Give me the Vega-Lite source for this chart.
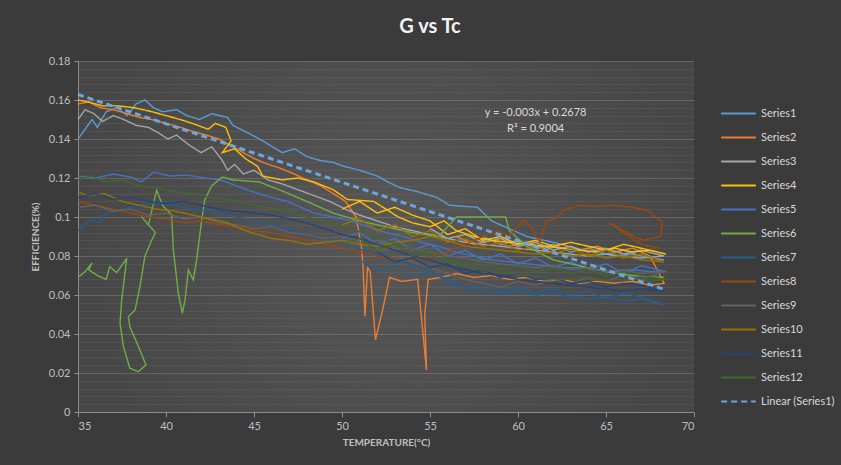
{
  "$schema": "https://vega.github.io/schema/vega-lite/v6.json",
  "width": 616,
  "height": 351,
  "autosize": {"type": "none"},
  "padding": {"left": 78, "top": 61, "right": 147, "bottom": 53},
  "background": "#3b3b3b",
  "title": {"text": "G vs Tc", "font": "Lato", "fontSize": 20, "fontWeight": "bold", "color": "#f2f2f2", "anchor": "middle", "frame": "group", "dx": 44, "offset": 18},
  "config": {
    "view": {"stroke": null, "fill": {"gradient": "radial", "stops": [{"offset": 0, "color": "#575757"}, {"offset": 1, "color": "#474747"}]}},
    "font": "Lato"
  },
  "datasets": {
    "series": [
      {"s":"Series1","x":35,"y":0.140},{"s":"Series1","x":35.4,"y":0.145},{"s":"Series1","x":35.8,"y":0.150},{"s":"Series1","x":36.1,"y":0.146},{"s":"Series1","x":36.6,"y":0.154},{"s":"Series1","x":37.2,"y":0.156},{"s":"Series1","x":37.8,"y":0.152},{"s":"Series1","x":38.3,"y":0.158},{"s":"Series1","x":38.8,"y":0.160},{"s":"Series1","x":39.3,"y":0.156},{"s":"Series1","x":39.8,"y":0.154},{"s":"Series1","x":40.6,"y":0.155},{"s":"Series1","x":41.2,"y":0.152},{"s":"Series1","x":41.9,"y":0.150},{"s":"Series1","x":42.6,"y":0.153},{"s":"Series1","x":43.5,"y":0.151},{"s":"Series1","x":43.8,"y":0.147},{"s":"Series1","x":44.9,"y":0.142},{"s":"Series1","x":45.5,"y":0.139},{"s":"Series1","x":46.6,"y":0.133},{"s":"Series1","x":47.3,"y":0.135},{"s":"Series1","x":48.0,"y":0.131},{"s":"Series1","x":48.75,"y":0.129},{"s":"Series1","x":49.5,"y":0.128},{"s":"Series1","x":50.1,"y":0.126},{"s":"Series1","x":51.0,"y":0.124},{"s":"Series1","x":52.0,"y":0.121},{"s":"Series1","x":52.6,"y":0.118},{"s":"Series1","x":53.3,"y":0.115},{"s":"Series1","x":54.3,"y":0.113},{"s":"Series1","x":55.4,"y":0.110},{"s":"Series1","x":56.1,"y":0.106},{"s":"Series1","x":57.7,"y":0.105},{"s":"Series1","x":58.5,"y":0.098},{"s":"Series1","x":59.5,"y":0.094},{"s":"Series1","x":60.5,"y":0.090},{"s":"Series1","x":61.5,"y":0.088},{"s":"Series1","x":62.5,"y":0.086},{"s":"Series1","x":63.5,"y":0.083},{"s":"Series1","x":64.5,"y":0.082},{"s":"Series1","x":65.5,"y":0.080},{"s":"Series1","x":66.5,"y":0.081},{"s":"Series1","x":67.5,"y":0.079},{"s":"Series1","x":68.3,"y":0.078},{"s":"Series1","x":67,"y":0.080},{"s":"Series1","x":66,"y":0.083},{"s":"Series1","x":65,"y":0.081},{"s":"Series1","x":64,"y":0.084},{"s":"Series1","x":63,"y":0.082},{"s":"Series1","x":62,"y":0.086},{"s":"Series1","x":61,"y":0.084},{"s":"Series1","x":60,"y":0.088},{"s":"Series1","x":59,"y":0.086},{"s":"Series1","x":58,"y":0.090},

      {"s":"Series2","x":35,"y":0.158},{"s":"Series2","x":35.6,"y":0.159},{"s":"Series2","x":36.3,"y":0.156},{"s":"Series2","x":37,"y":0.155},{"s":"Series2","x":37.8,"y":0.153},{"s":"Series2","x":38.5,"y":0.151},{"s":"Series2","x":39.2,"y":0.150},{"s":"Series2","x":40,"y":0.148},{"s":"Series2","x":40.8,"y":0.146},{"s":"Series2","x":41.5,"y":0.144},{"s":"Series2","x":42.3,"y":0.142},{"s":"Series2","x":43,"y":0.140},{"s":"Series2","x":43.6,"y":0.137},{"s":"Series2","x":44.2,"y":0.134},{"s":"Series2","x":45,"y":0.130},{"s":"Series2","x":45.8,"y":0.127},{"s":"Series2","x":46.5,"y":0.125},{"s":"Series2","x":47.3,"y":0.122},{"s":"Series2","x":48,"y":0.119},{"s":"Series2","x":48.8,"y":0.116},{"s":"Series2","x":49.5,"y":0.112},{"s":"Series2","x":50.2,"y":0.108},{"s":"Series2","x":50.8,"y":0.100},{"s":"Series2","x":51.1,"y":0.085},{"s":"Series2","x":51.2,"y":0.074},{"s":"Series2","x":51.3,"y":0.049},{"s":"Series2","x":51.45,"y":0.074},{"s":"Series2","x":51.6,"y":0.072},{"s":"Series2","x":51.9,"y":0.037},{"s":"Series2","x":52.3,"y":0.052},{"s":"Series2","x":52.7,"y":0.069},{"s":"Series2","x":53.4,"y":0.067},{"s":"Series2","x":54.3,"y":0.068},{"s":"Series2","x":54.55,"y":0.045},{"s":"Series2","x":54.8,"y":0.0215},{"s":"Series2","x":54.7,"y":0.05},{"s":"Series2","x":54.9,"y":0.068},{"s":"Series2","x":55.6,"y":0.069},{"s":"Series2","x":56.5,"y":0.071},{"s":"Series2","x":57.5,"y":0.069},{"s":"Series2","x":58.5,"y":0.070},{"s":"Series2","x":59.5,"y":0.068},{"s":"Series2","x":60.5,"y":0.069},{"s":"Series2","x":61.5,"y":0.067},{"s":"Series2","x":62.5,"y":0.068},{"s":"Series2","x":63.5,"y":0.066},{"s":"Series2","x":64.5,"y":0.067},{"s":"Series2","x":65.5,"y":0.066},{"s":"Series2","x":66.5,"y":0.067},{"s":"Series2","x":67.5,"y":0.065},{"s":"Series2","x":68.3,"y":0.066},{"s":"Series2","x":67.5,"y":0.080},{"s":"Series2","x":66.5,"y":0.084},{"s":"Series2","x":65.5,"y":0.082},{"s":"Series2","x":64.5,"y":0.085},{"s":"Series2","x":63.5,"y":0.083},{"s":"Series2","x":62.5,"y":0.086},{"s":"Series2","x":61.5,"y":0.084},{"s":"Series2","x":60.5,"y":0.087},{"s":"Series2","x":59.5,"y":0.085},{"s":"Series2","x":58.5,"y":0.088},{"s":"Series2","x":57.5,"y":0.086},{"s":"Series2","x":56.5,"y":0.090},

      {"s":"Series3","x":35,"y":0.150},{"s":"Series3","x":35.4,"y":0.155},{"s":"Series3","x":35.9,"y":0.153},{"s":"Series3","x":36.4,"y":0.149},{"s":"Series3","x":37,"y":0.152},{"s":"Series3","x":37.6,"y":0.150},{"s":"Series3","x":38.3,"y":0.147},{"s":"Series3","x":39,"y":0.146},{"s":"Series3","x":39.6,"y":0.143},{"s":"Series3","x":40.1,"y":0.140},{"s":"Series3","x":40.6,"y":0.142},{"s":"Series3","x":41.3,"y":0.137},{"s":"Series3","x":42,"y":0.133},{"s":"Series3","x":42.6,"y":0.136},{"s":"Series3","x":43.2,"y":0.129},{"s":"Series3","x":43.5,"y":0.124},{"s":"Series3","x":43.9,"y":0.127},{"s":"Series3","x":44.4,"y":0.122},{"s":"Series3","x":45,"y":0.124},{"s":"Series3","x":45.8,"y":0.119},{"s":"Series3","x":46.6,"y":0.117},{"s":"Series3","x":47.5,"y":0.114},{"s":"Series3","x":48.4,"y":0.111},{"s":"Series3","x":49.3,"y":0.108},{"s":"Series3","x":50.2,"y":0.104},{"s":"Series3","x":51,"y":0.101},{"s":"Series3","x":52,"y":0.098},{"s":"Series3","x":53,"y":0.095},{"s":"Series3","x":54,"y":0.093},{"s":"Series3","x":55,"y":0.091},{"s":"Series3","x":56,"y":0.089},{"s":"Series3","x":57,"y":0.087},{"s":"Series3","x":58,"y":0.086},{"s":"Series3","x":59,"y":0.085},{"s":"Series3","x":60,"y":0.084},{"s":"Series3","x":61,"y":0.083},{"s":"Series3","x":62,"y":0.082},{"s":"Series3","x":63,"y":0.081},{"s":"Series3","x":64,"y":0.080},{"s":"Series3","x":65,"y":0.081},{"s":"Series3","x":66,"y":0.080},{"s":"Series3","x":67,"y":0.079},{"s":"Series3","x":68.3,"y":0.080},{"s":"Series3","x":67,"y":0.083},{"s":"Series3","x":66,"y":0.081},{"s":"Series3","x":65,"y":0.084},{"s":"Series3","x":64,"y":0.082},{"s":"Series3","x":63,"y":0.085},{"s":"Series3","x":62,"y":0.083},{"s":"Series3","x":61,"y":0.087},{"s":"Series3","x":60,"y":0.085},{"s":"Series3","x":59,"y":0.089},{"s":"Series3","x":58,"y":0.087},{"s":"Series3","x":57,"y":0.091},{"s":"Series3","x":56,"y":0.089},{"s":"Series3","x":55,"y":0.094},

      {"s":"Series4","x":35,"y":0.160},{"s":"Series4","x":35.6,"y":0.159},{"s":"Series4","x":36.4,"y":0.157},{"s":"Series4","x":37.3,"y":0.157},{"s":"Series4","x":38.2,"y":0.156},{"s":"Series4","x":39.2,"y":0.154},{"s":"Series4","x":40.0,"y":0.152},{"s":"Series4","x":40.8,"y":0.150},{"s":"Series4","x":41.5,"y":0.148},{"s":"Series4","x":42.4,"y":0.145},{"s":"Series4","x":42.8,"y":0.148},{"s":"Series4","x":43.4,"y":0.146},{"s":"Series4","x":43.7,"y":0.139},{"s":"Series4","x":43.2,"y":0.133},{"s":"Series4","x":43.9,"y":0.135},{"s":"Series4","x":44.5,"y":0.130},{"s":"Series4","x":45.2,"y":0.126},{"s":"Series4","x":45.5,"y":0.121},{"s":"Series4","x":46.6,"y":0.119},{"s":"Series4","x":47.5,"y":0.120},{"s":"Series4","x":48.4,"y":0.118},{"s":"Series4","x":49.5,"y":0.114},{"s":"Series4","x":50.3,"y":0.109},{"s":"Series4","x":51.8,"y":0.108},{"s":"Series4","x":52.5,"y":0.104},{"s":"Series4","x":53.2,"y":0.100},{"s":"Series4","x":54.0,"y":0.097},{"s":"Series4","x":55.0,"y":0.095},{"s":"Series4","x":55.8,"y":0.098},{"s":"Series4","x":56.5,"y":0.093},{"s":"Series4","x":57.5,"y":0.090},{"s":"Series4","x":58.5,"y":0.088},{"s":"Series4","x":59.5,"y":0.087},{"s":"Series4","x":60.5,"y":0.086},{"s":"Series4","x":61.5,"y":0.085},{"s":"Series4","x":62.5,"y":0.084},{"s":"Series4","x":63.5,"y":0.083},{"s":"Series4","x":64.5,"y":0.082},{"s":"Series4","x":65.5,"y":0.084},{"s":"Series4","x":66.5,"y":0.082},{"s":"Series4","x":67.5,"y":0.083},{"s":"Series4","x":68.4,"y":0.081},{"s":"Series4","x":67,"y":0.084},{"s":"Series4","x":66,"y":0.086},{"s":"Series4","x":65,"y":0.083},{"s":"Series4","x":64,"y":0.085},{"s":"Series4","x":63,"y":0.087},{"s":"Series4","x":62,"y":0.085},{"s":"Series4","x":61,"y":0.088},{"s":"Series4","x":60,"y":0.086},{"s":"Series4","x":59,"y":0.090},{"s":"Series4","x":58,"y":0.088},{"s":"Series4","x":57,"y":0.094},{"s":"Series4","x":56,"y":0.091},{"s":"Series4","x":55,"y":0.098},{"s":"Series4","x":54,"y":0.101},{"s":"Series4","x":53,"y":0.105},{"s":"Series4","x":52,"y":0.102},{"s":"Series4","x":51,"y":0.108},{"s":"Series4","x":50,"y":0.104},

      {"s":"Series5","x":35,"y":0.121},{"s":"Series5","x":36,"y":0.120},{"s":"Series5","x":37,"y":0.122},{"s":"Series5","x":38,"y":0.1205},{"s":"Series5","x":38.6,"y":0.118},{"s":"Series5","x":39.3,"y":0.123},{"s":"Series5","x":40.2,"y":0.121},{"s":"Series5","x":41.2,"y":0.1215},{"s":"Series5","x":42.2,"y":0.120},{"s":"Series5","x":43.1,"y":0.119},{"s":"Series5","x":44,"y":0.116},{"s":"Series5","x":44.9,"y":0.113},{"s":"Series5","x":46,"y":0.110},{"s":"Series5","x":46.9,"y":0.108},{"s":"Series5","x":48.4,"y":0.102},{"s":"Series5","x":49.5,"y":0.100},{"s":"Series5","x":50.5,"y":0.098},{"s":"Series5","x":51.5,"y":0.095},{"s":"Series5","x":52.5,"y":0.092},{"s":"Series5","x":53.5,"y":0.090},{"s":"Series5","x":54.5,"y":0.087},{"s":"Series5","x":55.5,"y":0.085},{"s":"Series5","x":56.5,"y":0.082},{"s":"Series5","x":57.5,"y":0.080},{"s":"Series5","x":58.5,"y":0.078},{"s":"Series5","x":59.5,"y":0.077},{"s":"Series5","x":60.5,"y":0.076},{"s":"Series5","x":61.5,"y":0.075},{"s":"Series5","x":62.5,"y":0.074},{"s":"Series5","x":63.5,"y":0.074},{"s":"Series5","x":64.5,"y":0.073},{"s":"Series5","x":65.5,"y":0.072},{"s":"Series5","x":66.5,"y":0.073},{"s":"Series5","x":67.5,"y":0.072},{"s":"Series5","x":68.4,"y":0.072},{"s":"Series5","x":67,"y":0.075},{"s":"Series5","x":66,"y":0.071},{"s":"Series5","x":65,"y":0.076},{"s":"Series5","x":64,"y":0.073},{"s":"Series5","x":63,"y":0.077},{"s":"Series5","x":62,"y":0.074},{"s":"Series5","x":61,"y":0.079},{"s":"Series5","x":60,"y":0.076},{"s":"Series5","x":59,"y":0.081},{"s":"Series5","x":58,"y":0.078},{"s":"Series5","x":57,"y":0.083},{"s":"Series5","x":56,"y":0.080},{"s":"Series5","x":55,"y":0.086},{"s":"Series5","x":54,"y":0.083},{"s":"Series5","x":53,"y":0.089},{"s":"Series5","x":52,"y":0.086},{"s":"Series5","x":51,"y":0.092},{"s":"Series5","x":50,"y":0.089},

      {"s":"Series6","x":35,"y":0.069},{"s":"Series6","x":35.4,"y":0.072},{"s":"Series6","x":35.8,"y":0.0764},{"s":"Series6","x":35.6,"y":0.073},{"s":"Series6","x":36.1,"y":0.070},{"s":"Series6","x":36.6,"y":0.068},{"s":"Series6","x":36.8,"y":0.0745},{"s":"Series6","x":37.2,"y":0.0715},{"s":"Series6","x":37.77,"y":0.0788},{"s":"Series6","x":37.48,"y":0.0574},{"s":"Series6","x":37.39,"y":0.0455},{"s":"Series6","x":37.58,"y":0.0335},{"s":"Series6","x":37.95,"y":0.0224},{"s":"Series6","x":38.43,"y":0.0207},{"s":"Series6","x":38.86,"y":0.0241},{"s":"Series6","x":38.52,"y":0.0318},{"s":"Series6","x":37.95,"y":0.0437},{"s":"Series6","x":37.86,"y":0.0489},{"s":"Series6","x":38.24,"y":0.0523},{"s":"Series6","x":38.52,"y":0.0643},{"s":"Series6","x":38.8,"y":0.0798},{"s":"Series6","x":39.19,"y":0.0882},{"s":"Series6","x":39.4,"y":0.092},{"s":"Series6","x":38.6,"y":0.1002},{"s":"Series6","x":39.0,"y":0.096},{"s":"Series6","x":39.47,"y":0.1138},{"s":"Series6","x":39.8,"y":0.106},{"s":"Series6","x":40.32,"y":0.101},{"s":"Series6","x":40.42,"y":0.083},{"s":"Series6","x":40.7,"y":0.0609},{"s":"Series6","x":40.93,"y":0.0506},{"s":"Series6","x":41.08,"y":0.0574},{"s":"Series6","x":41.27,"y":0.0728},{"s":"Series6","x":41.55,"y":0.0677},{"s":"Series6","x":41.74,"y":0.078},{"s":"Series6","x":42.03,"y":0.0985},{"s":"Series6","x":42.2,"y":0.1087},{"s":"Series6","x":42.6,"y":0.116},{"s":"Series6","x":43.2,"y":0.1205},{"s":"Series6","x":43.8,"y":0.119},{"s":"Series6","x":45.3,"y":0.118},{"s":"Series6","x":46.7,"y":0.113},{"s":"Series6","x":48,"y":0.108},{"s":"Series6","x":49.5,"y":0.102},{"s":"Series6","x":51,"y":0.098},{"s":"Series6","x":52.5,"y":0.095},{"s":"Series6","x":54,"y":0.092},{"s":"Series6","x":55.5,"y":0.090},{"s":"Series6","x":56.5,"y":0.1},{"s":"Series6","x":58.3,"y":0.1},{"s":"Series6","x":59.3,"y":0.1},{"s":"Series6","x":59.5,"y":0.093},{"s":"Series6","x":60.5,"y":0.085},{"s":"Series6","x":62,"y":0.078},{"s":"Series6","x":63.5,"y":0.075},{"s":"Series6","x":65,"y":0.072},{"s":"Series6","x":66.5,"y":0.070},{"s":"Series6","x":68.3,"y":0.069},

      {"s":"Series7","x":35,"y":0.093},{"s":"Series7","x":35.7,"y":0.0985},{"s":"Series7","x":36.2,"y":0.097},{"s":"Series7","x":36.6,"y":0.102},{"s":"Series7","x":37.5,"y":0.104},{"s":"Series7","x":38.5,"y":0.106},{"s":"Series7","x":39.5,"y":0.107},{"s":"Series7","x":40.5,"y":0.106},{"s":"Series7","x":41.5,"y":0.104},{"s":"Series7","x":42.5,"y":0.103},{"s":"Series7","x":43.5,"y":0.101},{"s":"Series7","x":44.5,"y":0.099},{"s":"Series7","x":45.5,"y":0.097},{"s":"Series7","x":46.5,"y":0.095},{"s":"Series7","x":47.5,"y":0.092},{"s":"Series7","x":48.5,"y":0.090},{"s":"Series7","x":49.5,"y":0.088},{"s":"Series7","x":50.5,"y":0.085},{"s":"Series7","x":51.5,"y":0.082},{"s":"Series7","x":52.5,"y":0.080},{"s":"Series7","x":53.5,"y":0.077},{"s":"Series7","x":54.5,"y":0.074},{"s":"Series7","x":55.5,"y":0.070},{"s":"Series7","x":56,"y":0.066},{"s":"Series7","x":57,"y":0.064},{"s":"Series7","x":58,"y":0.062},{"s":"Series7","x":59,"y":0.061},{"s":"Series7","x":60,"y":0.062},{"s":"Series7","x":61,"y":0.060},{"s":"Series7","x":62,"y":0.061},{"s":"Series7","x":63,"y":0.059},{"s":"Series7","x":64,"y":0.058},{"s":"Series7","x":65,"y":0.059},{"s":"Series7","x":66,"y":0.057},{"s":"Series7","x":67,"y":0.058},{"s":"Series7","x":68.3,"y":0.055},{"s":"Series7","x":67,"y":0.059},{"s":"Series7","x":66,"y":0.061},{"s":"Series7","x":65,"y":0.058},{"s":"Series7","x":64,"y":0.062},{"s":"Series7","x":63,"y":0.060},{"s":"Series7","x":62,"y":0.063},{"s":"Series7","x":61,"y":0.061},{"s":"Series7","x":60,"y":0.064},{"s":"Series7","x":59,"y":0.062},{"s":"Series7","x":58,"y":0.066},{"s":"Series7","x":57,"y":0.063},{"s":"Series7","x":56,"y":0.068},{"s":"Series7","x":55,"y":0.072},{"s":"Series7","x":54,"y":0.069},{"s":"Series7","x":53,"y":0.075},{"s":"Series7","x":52,"y":0.072},{"s":"Series7","x":51,"y":0.078},

      {"s":"Series8","x":35,"y":0.108},{"s":"Series8","x":36,"y":0.106},{"s":"Series8","x":37,"y":0.104},{"s":"Series8","x":38,"y":0.102},{"s":"Series8","x":39,"y":0.100},{"s":"Series8","x":40,"y":0.099},{"s":"Series8","x":41,"y":0.097},{"s":"Series8","x":42,"y":0.098},{"s":"Series8","x":43,"y":0.096},{"s":"Series8","x":44,"y":0.095},{"s":"Series8","x":45,"y":0.093},{"s":"Series8","x":46,"y":0.092},{"s":"Series8","x":47,"y":0.090},{"s":"Series8","x":48,"y":0.088},{"s":"Series8","x":49,"y":0.086},{"s":"Series8","x":50,"y":0.084},{"s":"Series8","x":51,"y":0.082},{"s":"Series8","x":52,"y":0.080},{"s":"Series8","x":53,"y":0.079},{"s":"Series8","x":54,"y":0.078},{"s":"Series8","x":55,"y":0.080},{"s":"Series8","x":56,"y":0.082},{"s":"Series8","x":57,"y":0.086},{"s":"Series8","x":58,"y":0.090},{"s":"Series8","x":58.8,"y":0.093},{"s":"Series8","x":59.5,"y":0.090},{"s":"Series8","x":60.3,"y":0.0985},{"s":"Series8","x":60.8,"y":0.094},{"s":"Series8","x":61.25,"y":0.087},{"s":"Series8","x":61.6,"y":0.098},{"s":"Series8","x":62.2,"y":0.0995},{"s":"Series8","x":62.6,"y":0.1036},{"s":"Series8","x":63.5,"y":0.106},{"s":"Series8","x":64.5,"y":0.1055},{"s":"Series8","x":65.4,"y":0.106},{"s":"Series8","x":66.5,"y":0.105},{"s":"Series8","x":67.3,"y":0.1036},{"s":"Series8","x":68.2,"y":0.0975},{"s":"Series8","x":68.1,"y":0.090},{"s":"Series8","x":67.1,"y":0.088},{"s":"Series8","x":66.4,"y":0.0908},{"s":"Series8","x":65.2,"y":0.097},{"s":"Series8","x":66.0,"y":0.092},{"s":"Series8","x":67.0,"y":0.086},{"s":"Series8","x":68.0,"y":0.084},

      {"s":"Series9","x":35,"y":0.105},{"s":"Series9","x":36,"y":0.106},{"s":"Series9","x":37,"y":0.103},{"s":"Series9","x":38,"y":0.104},{"s":"Series9","x":39,"y":0.101},{"s":"Series9","x":40,"y":0.102},{"s":"Series9","x":41,"y":0.099},{"s":"Series9","x":42,"y":0.100},{"s":"Series9","x":43,"y":0.097},{"s":"Series9","x":44,"y":0.096},{"s":"Series9","x":45,"y":0.094},{"s":"Series9","x":46,"y":0.095},{"s":"Series9","x":47,"y":0.092},{"s":"Series9","x":48,"y":0.091},{"s":"Series9","x":49,"y":0.089},{"s":"Series9","x":50,"y":0.090},{"s":"Series9","x":51,"y":0.087},{"s":"Series9","x":52,"y":0.088},{"s":"Series9","x":53,"y":0.085},{"s":"Series9","x":52,"y":0.083},{"s":"Series9","x":54,"y":0.084},{"s":"Series9","x":55,"y":0.082},{"s":"Series9","x":56,"y":0.080},{"s":"Series9","x":57,"y":0.079},{"s":"Series9","x":58,"y":0.077},{"s":"Series9","x":59,"y":0.076},{"s":"Series9","x":60,"y":0.075},{"s":"Series9","x":61,"y":0.074},{"s":"Series9","x":62,"y":0.075},{"s":"Series9","x":63,"y":0.073},{"s":"Series9","x":64,"y":0.074},{"s":"Series9","x":65,"y":0.072},{"s":"Series9","x":66,"y":0.073},{"s":"Series9","x":67,"y":0.071},{"s":"Series9","x":68.3,"y":0.072},{"s":"Series9","x":67,"y":0.068},{"s":"Series9","x":66,"y":0.070},{"s":"Series9","x":65,"y":0.067},{"s":"Series9","x":64,"y":0.069},{"s":"Series9","x":63,"y":0.066},{"s":"Series9","x":62,"y":0.068},{"s":"Series9","x":61,"y":0.065},{"s":"Series9","x":60,"y":0.067},{"s":"Series9","x":59,"y":0.064},{"s":"Series9","x":58,"y":0.066},{"s":"Series9","x":57,"y":0.068},{"s":"Series9","x":56,"y":0.071},{"s":"Series9","x":55,"y":0.074},{"s":"Series9","x":54,"y":0.077},{"s":"Series9","x":53,"y":0.080},

      {"s":"Series10","x":35,"y":0.113},{"s":"Series10","x":35.5,"y":0.111},{"s":"Series10","x":36.5,"y":0.112},{"s":"Series10","x":37.5,"y":0.108},{"s":"Series10","x":38.5,"y":0.106},{"s":"Series10","x":39.5,"y":0.104},{"s":"Series10","x":40.5,"y":0.103},{"s":"Series10","x":41.5,"y":0.101},{"s":"Series10","x":42.5,"y":0.099},{"s":"Series10","x":43.5,"y":0.097},{"s":"Series10","x":44.5,"y":0.093},{"s":"Series10","x":45.2,"y":0.091},{"s":"Series10","x":46,"y":0.089},{"s":"Series10","x":47,"y":0.088},{"s":"Series10","x":48,"y":0.086},{"s":"Series10","x":49,"y":0.087},{"s":"Series10","x":50,"y":0.088},{"s":"Series10","x":51,"y":0.086},{"s":"Series10","x":52,"y":0.085},{"s":"Series10","x":53,"y":0.087},{"s":"Series10","x":54,"y":0.088},{"s":"Series10","x":55,"y":0.090},{"s":"Series10","x":56,"y":0.088},{"s":"Series10","x":57,"y":0.085},{"s":"Series10","x":58,"y":0.084},{"s":"Series10","x":59,"y":0.083},{"s":"Series10","x":60,"y":0.082},{"s":"Series10","x":61,"y":0.081},{"s":"Series10","x":62,"y":0.082},{"s":"Series10","x":63,"y":0.080},{"s":"Series10","x":64,"y":0.081},{"s":"Series10","x":65,"y":0.079},{"s":"Series10","x":66,"y":0.080},{"s":"Series10","x":67,"y":0.078},{"s":"Series10","x":68.3,"y":0.077},{"s":"Series10","x":67,"y":0.081},{"s":"Series10","x":66,"y":0.079},{"s":"Series10","x":65,"y":0.083},{"s":"Series10","x":64,"y":0.080},{"s":"Series10","x":63,"y":0.084},{"s":"Series10","x":62,"y":0.081},{"s":"Series10","x":61,"y":0.085},{"s":"Series10","x":60,"y":0.083},{"s":"Series10","x":59,"y":0.087},{"s":"Series10","x":58,"y":0.085},{"s":"Series10","x":57,"y":0.089},{"s":"Series10","x":56,"y":0.087},{"s":"Series10","x":55,"y":0.093},{"s":"Series10","x":54,"y":0.090},{"s":"Series10","x":53,"y":0.096},{"s":"Series10","x":52,"y":0.093},{"s":"Series10","x":51,"y":0.099},{"s":"Series10","x":50,"y":0.096},

      {"s":"Series11","x":35,"y":0.110},{"s":"Series11","x":36,"y":0.112},{"s":"Series11","x":37,"y":0.109},{"s":"Series11","x":38,"y":0.110},{"s":"Series11","x":39,"y":0.108},{"s":"Series11","x":40,"y":0.107},{"s":"Series11","x":41,"y":0.108},{"s":"Series11","x":42,"y":0.106},{"s":"Series11","x":43,"y":0.104},{"s":"Series11","x":44,"y":0.103},{"s":"Series11","x":45,"y":0.102},{"s":"Series11","x":46,"y":0.101},{"s":"Series11","x":47,"y":0.099},{"s":"Series11","x":48,"y":0.097},{"s":"Series11","x":49,"y":0.094},{"s":"Series11","x":50,"y":0.091},{"s":"Series11","x":51,"y":0.089},{"s":"Series11","x":52,"y":0.086},{"s":"Series11","x":53,"y":0.083},{"s":"Series11","x":54,"y":0.080},{"s":"Series11","x":55,"y":0.078},{"s":"Series11","x":56,"y":0.075},{"s":"Series11","x":57,"y":0.073},{"s":"Series11","x":58,"y":0.071},{"s":"Series11","x":59,"y":0.070},{"s":"Series11","x":60,"y":0.068},{"s":"Series11","x":61,"y":0.067},{"s":"Series11","x":62,"y":0.066},{"s":"Series11","x":63,"y":0.065},{"s":"Series11","x":64,"y":0.064},{"s":"Series11","x":65,"y":0.063},{"s":"Series11","x":66,"y":0.062},{"s":"Series11","x":67,"y":0.063},{"s":"Series11","x":68.3,"y":0.062},{"s":"Series11","x":67,"y":0.065},{"s":"Series11","x":66,"y":0.066},{"s":"Series11","x":65,"y":0.064},{"s":"Series11","x":64,"y":0.067},{"s":"Series11","x":63,"y":0.066},{"s":"Series11","x":62,"y":0.069},{"s":"Series11","x":61,"y":0.068},{"s":"Series11","x":60,"y":0.071},{"s":"Series11","x":59,"y":0.069},{"s":"Series11","x":58,"y":0.073},{"s":"Series11","x":57,"y":0.071},{"s":"Series11","x":56,"y":0.076},{"s":"Series11","x":55,"y":0.074},{"s":"Series11","x":54,"y":0.079},{"s":"Series11","x":53,"y":0.077},{"s":"Series11","x":52,"y":0.082},

      {"s":"Series12","x":35,"y":0.119},{"s":"Series12","x":35.8,"y":0.121},{"s":"Series12","x":36.5,"y":0.118},{"s":"Series12","x":37.5,"y":0.119},{"s":"Series12","x":38.5,"y":0.116},{"s":"Series12","x":39.5,"y":0.115},{"s":"Series12","x":40.5,"y":0.113},{"s":"Series12","x":41.5,"y":0.112},{"s":"Series12","x":42.5,"y":0.110},{"s":"Series12","x":43.5,"y":0.109},{"s":"Series12","x":44.5,"y":0.107},{"s":"Series12","x":45.5,"y":0.105},{"s":"Series12","x":46.5,"y":0.104},{"s":"Series12","x":47.5,"y":0.101},{"s":"Series12","x":48.5,"y":0.099},{"s":"Series12","x":49.5,"y":0.097},{"s":"Series12","x":50.5,"y":0.094},{"s":"Series12","x":51.5,"y":0.091},{"s":"Series12","x":52.5,"y":0.088},{"s":"Series12","x":53.5,"y":0.085},{"s":"Series12","x":54.5,"y":0.082},{"s":"Series12","x":55.5,"y":0.079},{"s":"Series12","x":56.5,"y":0.076},{"s":"Series12","x":57.5,"y":0.074},{"s":"Series12","x":58.5,"y":0.072},{"s":"Series12","x":59.5,"y":0.071},{"s":"Series12","x":60.5,"y":0.070},{"s":"Series12","x":61.5,"y":0.069},{"s":"Series12","x":62.5,"y":0.068},{"s":"Series12","x":63.5,"y":0.069},{"s":"Series12","x":64.5,"y":0.068},{"s":"Series12","x":65.5,"y":0.067},{"s":"Series12","x":66.5,"y":0.068},{"s":"Series12","x":67.5,"y":0.067},{"s":"Series12","x":68.4,"y":0.068},{"s":"Series12","x":67,"y":0.070},{"s":"Series12","x":66,"y":0.072},{"s":"Series12","x":65,"y":0.070},{"s":"Series12","x":64,"y":0.073},{"s":"Series12","x":63,"y":0.071},{"s":"Series12","x":62,"y":0.074},{"s":"Series12","x":61,"y":0.072},{"s":"Series12","x":60,"y":0.075},{"s":"Series12","x":59,"y":0.073},{"s":"Series12","x":58,"y":0.077},{"s":"Series12","x":57,"y":0.075},{"s":"Series12","x":56,"y":0.079},{"s":"Series12","x":55,"y":0.083},{"s":"Series12","x":54,"y":0.080},{"s":"Series12","x":53,"y":0.086},{"s":"Series12","x":52,"y":0.083},{"s":"Series12","x":51,"y":0.089},{"s":"Series12","x":50,"y":0.086}
    ],
    "trend": [
      {"s":"Linear (Series1)","x":35,"y":0.1628},
      {"s":"Linear (Series1)","x":68.3,"y":0.0629}
    ],
    "notes": [
      {"x":61,"y":0.1533,"t":"y = -0.003x + 0.2678"},
      {"x":61,"y":0.1451,"t":"R² = 0.9004"}
    ]
  },
  "layer": [
    {
      "data": {"name": "series"},
      "mark": {"type": "line", "strokeWidth": 1.4, "clip": true},
      "encoding": {
        "x": {"field": "x", "type": "quantitative",
          "scale": {"domain": [35, 70], "nice": false},
          "axis": {"values": [35,40,45,50,55,60,65,70], "tickCount": 10, "grid": false, "title": "TEMPERATURE(°C)",
            "domainColor": "#8c8c8c", "tickColor": "#8c8c8c", "tickSize": 5,
            "labelColor": "#bfbfbf", "labelFontSize": 11, "labelFont": "Lato", "labelPadding": 3,
            "titleFont": "Lato", "titleFontSize": 10, "titleFontWeight": "bold", "titleColor": "#bfbfbf", "titlePadding": 6}},
        "y": {"field": "y", "type": "quantitative",
          "scale": {"domain": [0, 0.18], "nice": false},
          "axis": {"values": [0,0.004,0.008,0.012,0.016,0.02,0.024,0.028,0.032,0.036,0.04,0.044,0.048,0.052,0.056,0.06,0.064,0.068,0.072,0.076,0.08,0.084,0.088,0.092,0.096,0.1,0.104,0.108,0.112,0.116,0.12,0.124,0.128,0.132,0.136,0.14,0.144,0.148,0.152,0.156,0.16,0.164,0.168,0.172,0.176,0.18],
            "tickCount": 100,
            "labelOverlap": false,
            "labelExpr": "abs(datum.value*50 - round(datum.value*50)) < 0.01 ? format(datum.value, '.2~f') : ''",
            "grid": true, "gridColor": "#8a8a8a",
            "gridOpacity": {"condition": {"test": "abs(datum.value*50 - round(datum.value*50)) < 0.01", "value": 0.45}, "value": 0.15},
            "tickOpacity": {"condition": {"test": "abs(datum.value*50 - round(datum.value*50)) < 0.01", "value": 1}, "value": 0},
            "tickColor": "#8c8c8c", "tickSize": 4, "domainColor": "#8c8c8c",
            "labelColor": "#bfbfbf", "labelFontSize": 11, "labelFont": "Lato", "labelPadding": 4,
            "title": "EFFICIENCE(%)", "titleFont": "Lato", "titleFontSize": 10, "titleFontWeight": "bold", "titleColor": "#bfbfbf", "titlePadding": 8}},
        "color": {"field": "s", "type": "nominal",
          "scale": {"domain": ["Series1","Series2","Series3","Series4","Series5","Series6","Series7","Series8","Series9","Series10","Series11","Series12","Linear (Series1)"],
            "range": ["#5B9BD5","#ED7D31","#A5A5A5","#FFC000","#4472C4","#70AD47","#255E91","#9E480E","#636363","#997300","#264478","#43682B","#6CA6DC"]},
          "legend": {"orient": "none", "legendX": 642, "legendY": 34, "title": null, "symbolType": "stroke", "symbolSize": 1200, "symbolStrokeWidth": 2, "rowPadding": -10,
            "labelColor": "#d9d9d9", "labelFont": "Lato", "labelFontSize": 11, "padding": 0}},
        "strokeDash": {"field": "s", "type": "nominal",
          "scale": {"domain": ["Series1","Series2","Series3","Series4","Series5","Series6","Series7","Series8","Series9","Series10","Series11","Series12","Linear (Series1)"],
            "range": [[1,0],[1,0],[1,0],[1,0],[1,0],[1,0],[1,0],[1,0],[1,0],[1,0],[1,0],[1,0],[6,4]]}},
        "order": {"value": null}
      }
    },
    {
      "data": {"name": "trend"},
      "mark": {"type": "line", "strokeWidth": 3},
      "encoding": {
        "x": {"field": "x", "type": "quantitative"},
        "y": {"field": "y", "type": "quantitative"},
        "color": {"field": "s", "type": "nominal"},
        "strokeDash": {"field": "s", "type": "nominal"}
      }
    },
    {
      "data": {"name": "notes"},
      "mark": {"type": "text", "font": "Lato", "fontSize": 11, "color": "#d9d9d9", "align": "center", "baseline": "middle"},
      "encoding": {
        "x": {"field": "x", "type": "quantitative"},
        "y": {"field": "y", "type": "quantitative"},
        "text": {"field": "t"}
      }
    }
  ]
}
